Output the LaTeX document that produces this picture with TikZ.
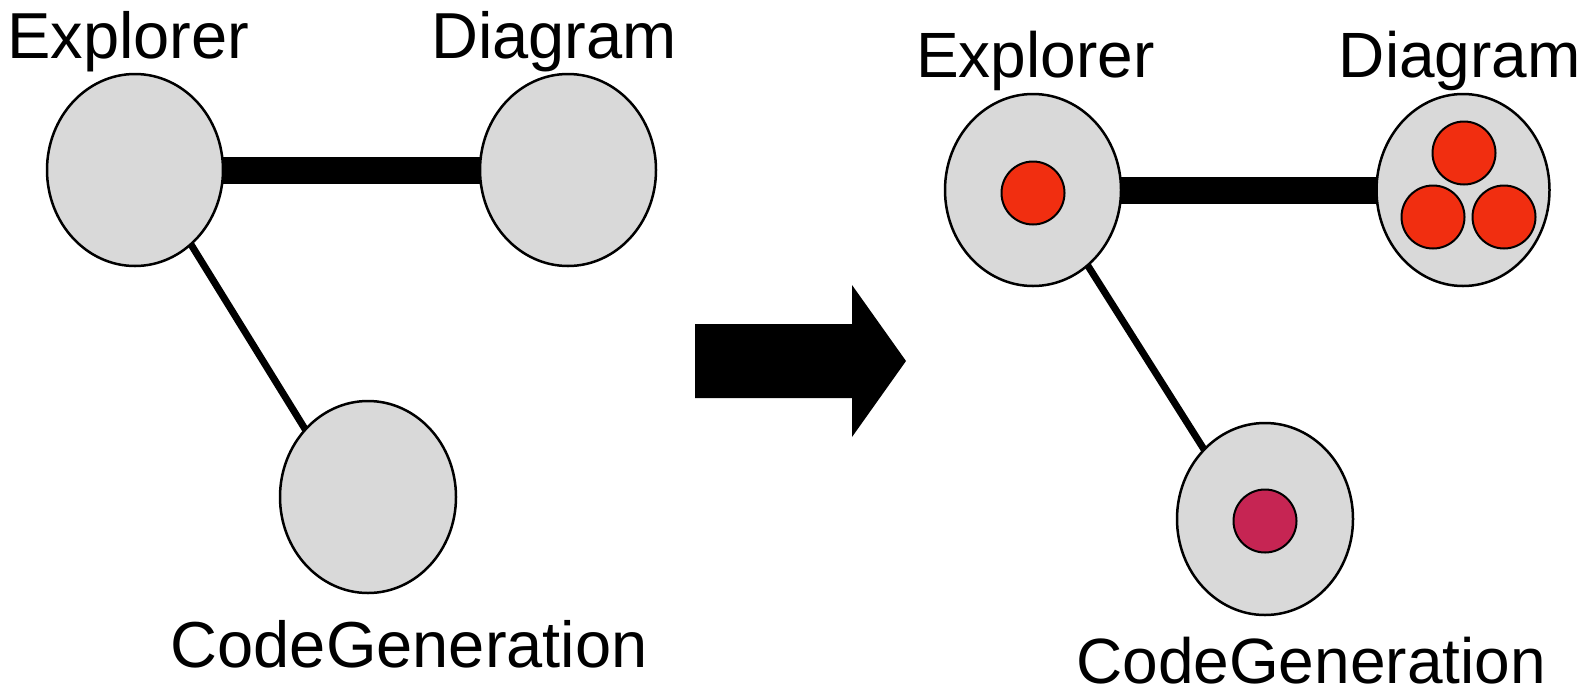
\documentclass[tikz,border=0pt]{standalone}
\usepackage{fontspec}
\setmainfont{Liberation Sans}
\usetikzlibrary{shapes.geometric,backgrounds}
\definecolor{blobgray}{HTML}{D9D9D9}
\definecolor{dotred}{HTML}{F12E10}
\definecolor{dotcrimson}{HTML}{C62553}
\tikzset{
  comp/.style={ellipse, draw=black, fill=blobgray, line width=2.5pt,
    inner sep=0pt, minimum width=176pt, minimum height=192pt},
  dot/.style={circle, draw=black, line width=2pt, inner sep=0pt,
    minimum size=63pt},
  reddot/.style={dot, fill=dotred},
  crimsondot/.style={dot, fill=dotcrimson},
  lbl/.style={anchor=base west, inner sep=0pt, font=\fontsize{#1pt}{#1pt}\selectfont},
  strong/.style={line width=27pt},
  weak/.style={line width=7pt},
  bigarrow/.style={fill=black}
}
\begin{document}
\begin{tikzpicture}[x=1pt, y=-1pt]
\useasboundingbox (0,0) rectangle (1584,686);

% before: three components
\node[comp] (e1) at (135,170) {};
\node[comp] (d1) at (568,170) {};
\node[comp] (c1) at (368,497) {};
\node[lbl=65] (le1) at (7,58.6) {Explorer};
\node[lbl=65] (ld1) at (431,58.6) {Diagram};
\node[lbl=65] (lc1) at (170.5,667) {CodeGeneration};

% transition arrow
\fill[bigarrow] (695,324) -- (852,324) -- (852,285) -- (906,361)
  -- (852,437) -- (852,398) -- (695,398) -- cycle;

% after: components with their contents
\node[comp] (e2) at (1033,190) {};
\node[comp, minimum width=173pt] (d2) at (1463,190) {};
\node[comp] (c2) at (1265,519) {};
\node[reddot] (x1) at (1033,193) {};
\node[reddot] (y1) at (1464,153) {};
\node[reddot] (y2) at (1433,217) {};
\node[reddot] (y3) at (1504,217) {};
\node[crimsondot] (z1) at (1265,521) {};
\node[lbl=64] (le2) at (916,77) {Explorer};
\node[lbl=64] (ld2) at (1338.6,77) {Diagram};
\node[lbl=64] (lc2) at (1076,683.5) {CodeGeneration};

% links between components
\begin{scope}[on background layer]
  \draw[strong] (e1.center) -- (d1.center);
  \draw[weak] ([xshift=10pt]e1.center) -- ([xshift=-21pt]c1.center);
  \draw[strong] (e2.center) -- (d2.center);
  \draw[weak] ([xshift=7pt]e2.center) -- ([xshift=-17pt]c2.center);
\end{scope}
\end{tikzpicture}
\end{document}
